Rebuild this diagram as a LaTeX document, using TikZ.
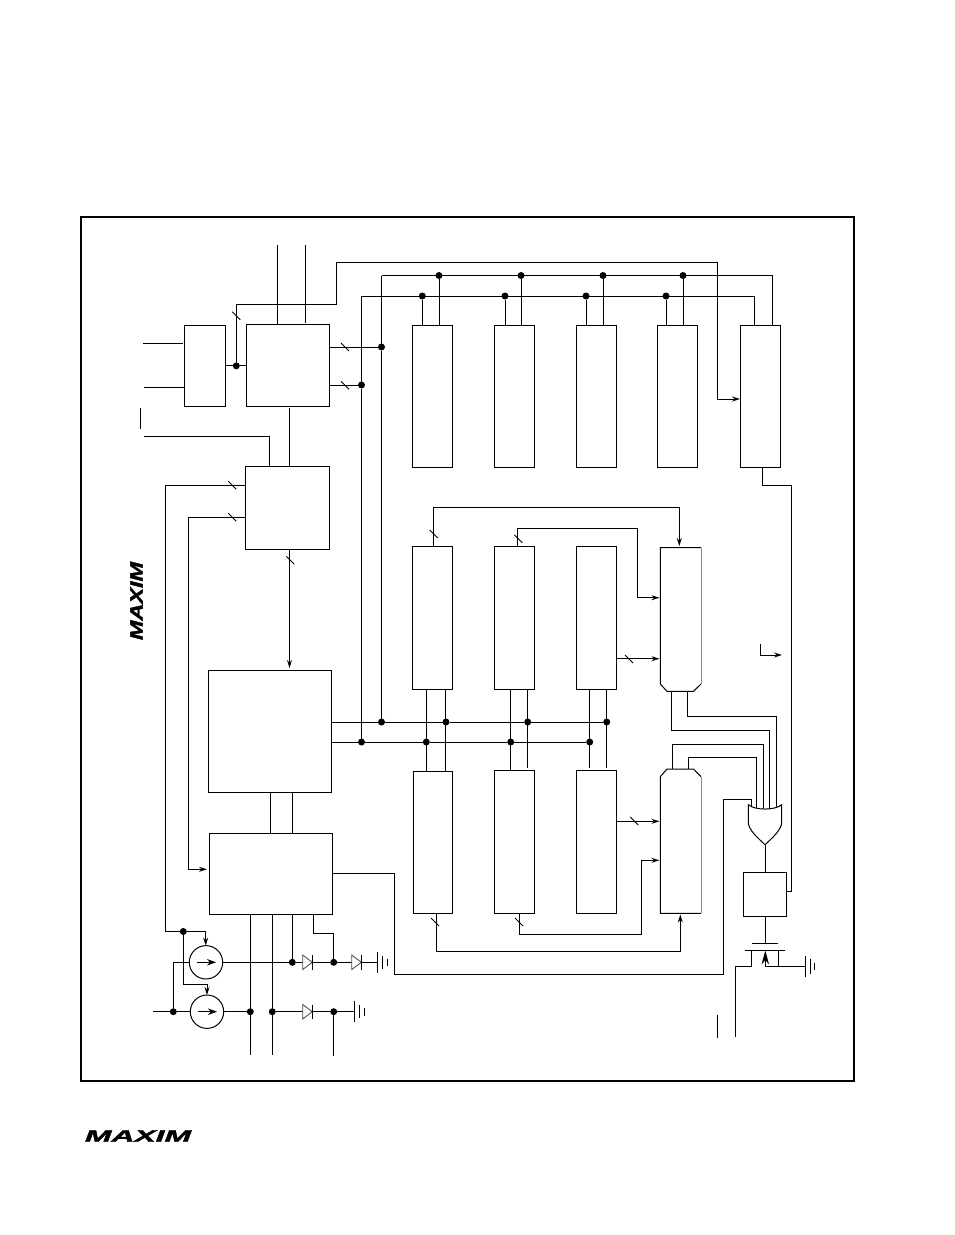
\documentclass[tikz,border=0pt]{standalone}
\usepackage{fontspec}
\setmainfont{Liberation Sans}
\newfontfamily\logofont[FakeBold=1.6]{Liberation Sans}
\usetikzlibrary{arrows.meta,calc}
\newcommand{\bx}[5]{\node[blockbox,minimum width={(#4)*1pt-(#2)*1pt},minimum height={(#5)*1pt-(#3)*1pt}] (#1) at ({(#2+#4)/2},{(#3+#5)/2}) {};}
\newcommand{\slashmark}[2]{\draw[tick] ({#1-4},{#2-4}) -- ({#1+4},{#2+4});}
\newcommand{\jn}[3]{\node[jdot] (#1) at (#2,#3) {};}
\tikzset{
  wire/.style={line width=1pt,black},
  tick/.style={line width=0.85pt,black},
  blockbox/.style={draw,line width=1pt,inner sep=0pt,outer sep=0pt,rectangle},
  jdot/.style={circle,fill=black,inner sep=0pt,minimum size=7pt,outer sep=0pt},
  srcbox/.style={circle,draw,line width=1pt,minimum size=33.4pt,inner sep=0pt,outer sep=0pt},
  tip/.style={-{Stealth[length=8pt,width=5pt]}},
  bigtip/.style={-{Stealth[length=9pt,width=6.5pt]}},
  wedgetip/.style={-{Stealth[length=14pt,width=7.5pt]}},
  diodeshape/.style={line width=0.85pt,draw=black!70,fill=white},
  frame/.style={line width=1.25pt,black},
  logotext/.style={inner sep=0pt,outer sep=0pt,font=\logofont\fontsize{16.5pt}{17pt}\selectfont\bfseries\itshape},
}
\begin{document}
\begin{tikzpicture}[x=1pt,y=-1pt,wire]
\useasboundingbox (0,0) rectangle (954,1235);
\draw[frame] (81,217) rectangle (854,1081);
% blocks
\bx{mux}{184.3}{325.3}{225.7}{406.3}
\bx{ctrl}{246.3}{324.3}{329.3}{406.3}
\bx{intf}{245.3}{466.3}{329.3}{549.3}
\bx{core}{208.3}{670}{331.3}{792.3}
\bx{reg}{209.3}{833.3}{332.3}{914.3}
\bx{ta}{412.5}{325}{452.5}{467}
\bx{tb}{494.5}{325}{534.5}{467}
\bx{tc}{576.5}{325}{616.5}{467}
\bx{td}{657.5}{325}{697.5}{467}
\bx{te}{740}{325}{780}{467.5}
\bx{ma}{412.3}{546.3}{452.7}{689.3}
\bx{mb}{494.3}{546.3}{534.7}{689.3}
\bx{mc}{576.3}{546.3}{616.3}{689.3}
\bx{la}{413.3}{771.3}{452.7}{913}
\bx{lb}{494.3}{770.3}{534.7}{913}
\bx{lc}{576.3}{770.3}{616.3}{913}
\bx{latch}{743.3}{872.3}{786.3}{916.3}
% octagons
\draw (701,684) -- (693.5,691.3) -- (667,691.3) -- (660.3,684) -- (660.3,547.5) -- (701,547.5);
\draw[black!45] (701,547.5) -- (701,684);
\draw (701,776.7) -- (693.5,769) -- (667,769) -- (660.3,776.7) -- (660.3,913.3) -- (701,913.3);
\draw[black!45] (701,776.7) -- (701,913.3);
% junctions
\jn{j1}{236.3}{365.8}
\jn{j2}{381.5}{347}
\jn{j3}{361.5}{385}
\jn{t1}{439}{275.5}\jn{t2}{521}{275.5}\jn{t3}{603}{275.5}\jn{t4}{683}{275.5}
\jn{u1}{422.3}{296}\jn{u2}{505}{296}\jn{u3}{586}{296}\jn{u4}{666}{296}
\jn{b1}{381.5}{722}\jn{b2}{446}{722}\jn{b3}{527.7}{722}\jn{b4}{606.7}{722}
\jn{c1}{361.5}{742}\jn{c2}{426.3}{742}\jn{c3}{510.7}{742}\jn{c4}{589.7}{742}
\jn{k1}{183.3}{931.5}\jn{k2}{173.3}{1011.7}
\jn{k3}{292.3}{962.3}\jn{k4}{333.7}{962.3}
\jn{k5}{250.3}{1011.7}\jn{k6}{272.3}{1011.7}\jn{k7}{333.7}{1011.7}
% free ends
\coordinate (inA) at (143,343.3);\coordinate (inB) at (144,387.3);\coordinate (inC) at (144,436.3);
\coordinate (topA) at (277.3,245);\coordinate (topB) at (305.3,245);
\coordinate (inD) at (153,1011.7);
\coordinate (botA) at (250.3,1055);\coordinate (botB) at (272.3,1055);\coordinate (botC) at (333.7,1056);
\coordinate (botD) at (735.7,1037);
% mux / ctrl
\draw (inA) -- (183,343.3);
\draw (inB) -- (inB -| mux.west);
\draw (inC) -| (269.5,466.3);
\draw (mux.east |- j1) -- (j1) -- (j1 -| ctrl.west);
\draw (j1) -- (236.3,304.5) -- (336.3,304.5) -- (336.3,262.5) -- (717,262.5) -- (717,399);
\draw[tip] (717,399) -- (te.west |- 0,399);
\draw (topA) -- (topA |- ctrl.north);
\draw (topB) -- (305.3,323);
\draw (ctrl.east |- 0,347) -- (j2);
\draw (ctrl.east |- 0,385) -- (j3);
\draw (289.5,408) -- (289.5,466.3);
% top buses
\draw (381.5,275.5) -- (772,275.5) -- (772,325);
\draw (361.5,296) -- (754,296) -- (754,325);
\draw (381.5,275.5) -- (j2) -- (b1);
\draw (361.5,296) -- (j3) -- (c1);
\draw (t1) -- (439,325);\draw (t2) -- (521,325);\draw (t3) -- (603,325);\draw (t4) -- (683,325);
\draw (u1) -- (422.3,325);\draw (u2) -- (505,325);\draw (u3) -- (586,325);\draw (u4) -- (666,325);
% interface
\draw (k1) -- (165.3,931.5) -- (165.3,485.3) -- (intf.west |- 0,485.3);
\draw[tip] (intf.west |- 0,517.3) -- (188.3,517.3) -- (188.3,869.3) -- (207,869.3);
\draw[tip] (289.5,549.3) -- (289.5,668);
% core buses
\draw (core.east |- 0,722) -- (b1) -- (b2) -- (b3) -- (b4);
\draw (core.east |- 0,742) -- (c1) -- (c2) -- (c3) -- (c4);
\draw (270.3,792.3) -- (270.3,833.3);
\draw (292.3,792.3) -- (292.3,833.3);
% column risers
\draw (426.3,689.3) -- (426.3,771.3);
\draw (445.3,689.3) -- (445.3,771.3);
\draw (510.3,689.3) -- (510.3,770.3);
\draw (527.3,689.3) -- (527.3,768);
\draw (589.7,689.3) -- (589.7,768);
\draw (606.3,689.3) -- (606.3,768);
% to upper octagon
\draw[tip] (433.3,546.3) -- (433.3,507.3) -- (679.3,507.3) -- (679.3,546);
\draw[tip] (517.3,546.3) -- (517.3,528.3) -- (637.3,528.3) -- (637.3,597.7) -- (659.5,597.7);
\draw[tip] (mc.east |- 0,658.7) -- (659.5,658.7);
% to lower octagon
\draw[tip] (lc.east |- 0,821.3) -- (659.5,821.3);
\draw[tip] (436,913) -- (436,951.7) -- (680.3,951.7) -- (680.3,914.5);
\draw[tip] (519.5,913) -- (519.5,934.3) -- (641.7,934.3) -- (641.7,860.3) -- (659.5,860.3);
% octagon outputs to gate
\draw (671.3,691.3) -- (671.3,730.3) -- (769.7,730.3) -- (769.7,810);
\draw (687.3,691.3) -- (687.3,716.3) -- (776.7,716.3) -- (776.7,808);
\draw (672.3,769) -- (672.3,744.7) -- (763.3,744.7) -- (763.3,810);
\draw (688.3,769) -- (688.3,757.3) -- (756.7,757.3) -- (756.7,809);
% long feed
\draw (reg.east |- 0,873.7) -- (394.3,873.7) -- (394.3,974.3) -- (723.3,974.3) -- (723.3,799.3) -- (751.3,799.3) -- (751.3,807);
% OR gate
\draw[fill=white] (748.3,804.7) .. controls (755,810.5) and (775,810.5) .. (781.7,804.7) -- (781.7,822) .. controls (781.7,830) and (772,838) .. (765,844.7) .. controls (758,838) and (748.3,830) .. (748.3,822) -- cycle;
\draw (765,844.7) -- (765,872.3);
% latch & feedback
\draw (latch.east |- 0,891.3) -- (791.7,891.3) -- (791.7,485) -- (762,485) -- (762,467.5);
\draw[tip] (760.3,644) -- (760.3,655) -- (782,655);
% MOSFET
\draw (765.3,916.3) -- (765.3,943.3);
\draw (752,943.3) -- (778,943.3);
\draw (745,950.3) -- (785,950.3);
\draw (botD) -- (735.7,966.3) -- (751.7,966.3) -- (751.7,950.3);
\draw (778.3,950.3) -- (778.3,966.3);
\draw (765.3,966.3) -- (805.3,966.3);
\draw[wedgetip] (765.3,966.3) -- (765.3,950.5);
\draw (805.3,956) -- (805.3,977);
\draw (810.3,958.5) -- (810.3,974);
\draw (814.7,962.7) -- (814.7,970);
\draw (717.3,1015) -- (717.3,1038);
\draw (140.5,408) -- (140.5,429);
% sources
\node[srcbox] (sa) at (206,962.3) {};
\node[srcbox] (sb) at (207,1011.7) {};
\draw[bigtip] (197,962.3) -- (216,962.3);
\draw[bigtip] (198,1011.7) -- (217,1011.7);
\draw (k1) -- (205.7,931.5);
\draw[tip] (205.7,931.5) -- (sa.north -| 205.7,0);
\draw (k1) -- (183.3,984.3) -- (207,984.3);
\draw[tip] (207,984.3) -- (sb.north);
\draw (inD) -- (k2) -- (sb.west);
\draw (k2) -- (173.3,962.3) -- (sa.west);
\draw (sa.east) -- (k3);
\draw (k3) -- (k4) -- (377.3,962.3);
\draw (sb.east) -- (k5);
\draw (k6) -- (k7) -- (354.3,1011.7);
\draw (reg.south -| k5) -- (botA);
\draw (reg.south -| k6) -- (botB);
\draw (reg.south -| k3) -- (k3);
\draw (313.3,914.3) -- (313.3,933.7) -- (333.7,933.7) -- (k4);
\draw (k7) -- (botC);
% diodes
\draw[diodeshape] (302.7,955) -- (312.3,962.3) -- (302.7,969.5) -- cycle;
\draw (312.3,955) -- (312.3,969.5);
\draw[diodeshape] (351.7,955) -- (361.3,962.3) -- (351.7,969.5) -- cycle;
\draw (361.3,955) -- (361.3,969.5);
\draw[diodeshape] (302.7,1004.5) -- (312.3,1011.7) -- (302.7,1019) -- cycle;
\draw (312.3,1004.5) -- (312.3,1019);
% grounds
\draw (377.3,952) -- (377.3,972.5);
\draw (382.7,955.5) -- (382.7,969);
\draw (387.3,958.5) -- (387.3,966);
\draw (354.3,1001) -- (354.3,1022);
\draw (359.7,1005) -- (359.7,1018);
\draw (364.7,1008) -- (364.7,1015.5);
% bus slashes
\slashmark{236.3}{315.7}\slashmark{345}{347}\slashmark{345}{385.3}
\slashmark{232.3}{485.3}\slashmark{232.3}{517.3}\slashmark{290.3}{560.3}
\slashmark{433.7}{534}\slashmark{518.3}{538.7}\slashmark{629}{659}
\slashmark{634.3}{821}\slashmark{435}{922}\slashmark{519}{922}
% logos
\node[logotext,xscale=1.93] (logoB) at (138,1136) {MAXIM};
\node[logotext,rotate=90,xscale=1.42,yscale=1.08] (logoM) at (136.5,601) {MAXIM};
\end{tikzpicture}
\end{document}
